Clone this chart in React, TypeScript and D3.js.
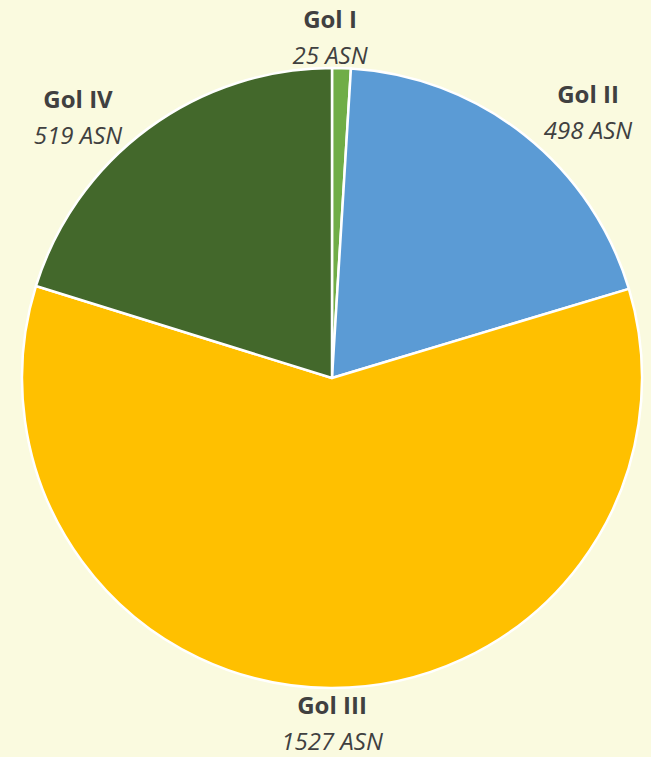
import React from "react";
import * as d3 from "d3";

const categories = ["Gol I", "Gol II", "Gol III", "Gol IV"];
const values = [25, 498, 1527, 519];
const valueLabels = ["25 ASN", "498 ASN", "1527 ASN", "519 ASN"];
const colors = ["#70ad47", "#5b9bd5", "#ffc000", "#43682b"];

const W = 651;
const H = 757;
const cx = 332;
const cy = 378;
const R = 310;
// label block centers, as offsets from pie center
const labelOffsets: [number, number][] = [
  [-2, -340],
  [256, -265],
  [0, 346],
  [-254, -260],
];

export default function App() {
  const data = categories.map((c, i) => ({ c, v: values[i], i }));
  const pie = d3.pie<any>().sort(null).value((d: any) => d.v);
  const arcs = pie(data);
  const arc = d3.arc<any>().innerRadius(0).outerRadius(R);
  const font = "'Open Sans', sans-serif";
  return (
    <svg
      width={W}
      height={H}
      style={{ position: "fixed", left: 0, top: 0, display: "block" }}
    >
      <rect x={0} y={0} width={W} height={H} fill="#fafadf" />
      <g transform={`translate(${cx},${cy})`}>
        {arcs.map((a, i) => (
          <path
            key={i}
            d={arc(a) as string}
            fill={colors[i]}
            stroke="#ffffff"
            strokeWidth={2.5}
            strokeLinejoin="round"
          />
        ))}
        {arcs.map((a, i) => {
          const [ox, oy] = labelOffsets[i];
          return (
            <g key={"l" + i} transform={`translate(${ox},${oy})`} fill="#404040" fontFamily={font}>
              <text textAnchor="middle" y={-10} fontSize={24} fontWeight="bold">
                {categories[i]}
              </text>
              <text textAnchor="middle" y={26} fontSize={24} fontStyle="italic">
                {valueLabels[i]}
              </text>
            </g>
          );
        })}
      </g>
    </svg>
  );
}
